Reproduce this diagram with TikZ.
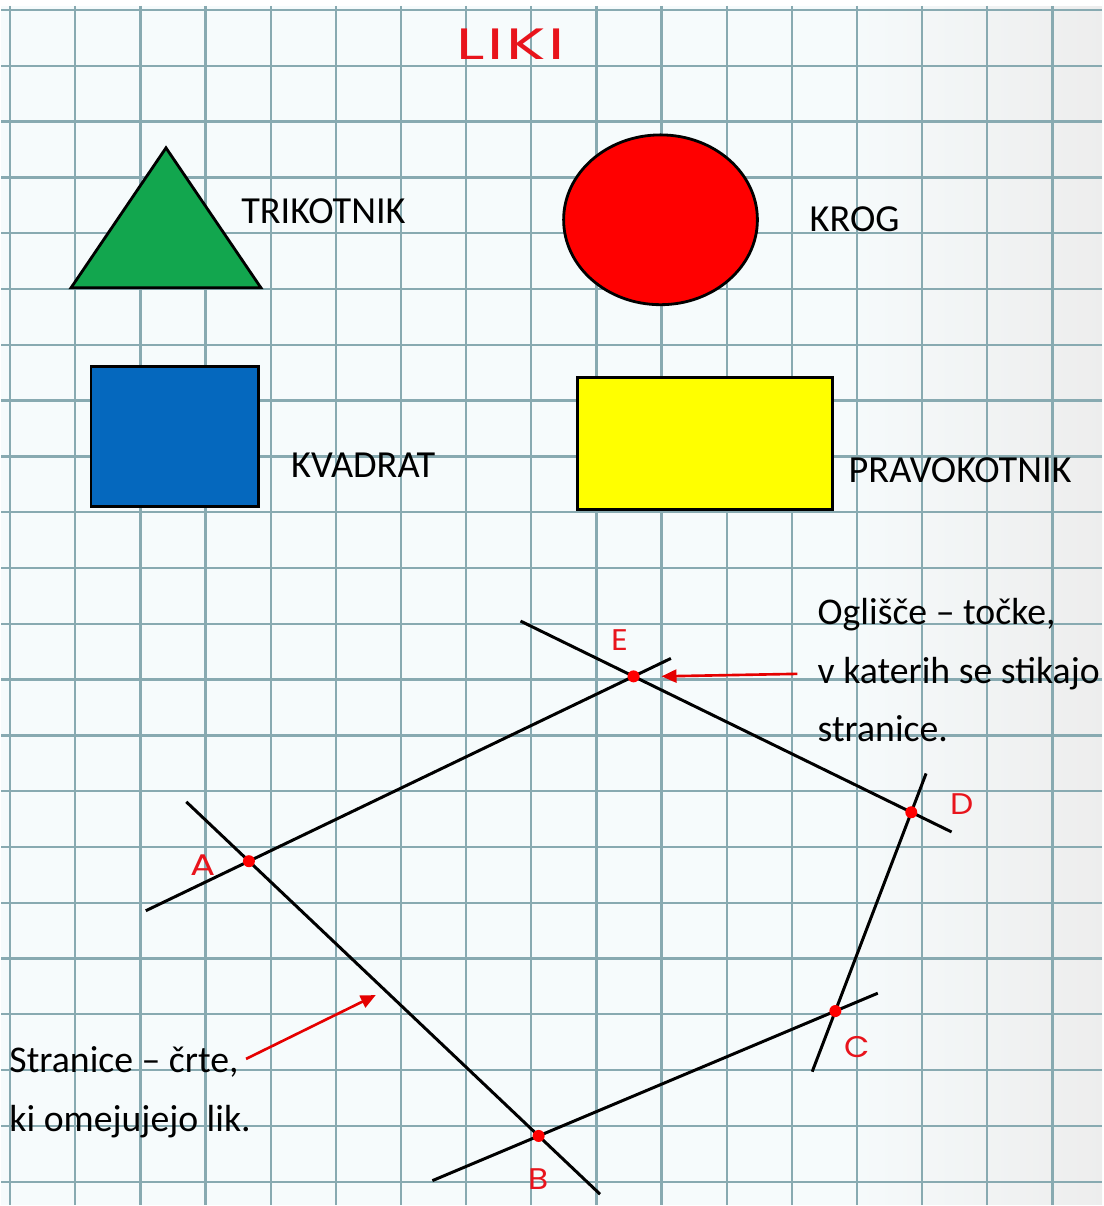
\documentclass[tikz,border=0pt]{standalone}
\usepackage{fontspec}
\setmainfont{Carlito}
\newfontfamily\titlefont[LetterSpace=4]{Poppins}
\newfontfamily\pointfont{Poppins}
\usepackage{tikz}
\usetikzlibrary{calc,arrows.meta,positioning}

\definecolor{gridline}{RGB}{136,170,177}
\definecolor{paper}{RGB}{246,251,252}
\definecolor{likired}{RGB}{232,20,28}
\definecolor{trigreen}{RGB}{18,166,78}
\definecolor{sqblue}{RGB}{5,104,190}
\definecolor{recyellow}{RGB}{255,255,0}
\definecolor{krogred}{RGB}{255,0,0}

\begin{document}
\begin{tikzpicture}[x=0.02cm, y=-0.02cm,
    lik/.style={draw=black, line width=1.6pt, line join=miter},
    liklabel/.style={font=\fontsize{21.8}{25}\selectfont, anchor=base west, inner sep=0pt},
    opis/.style={font=\fontsize{21.5}{25}\selectfont, anchor=base west, inner sep=0pt},
    stranica/.style={black, line width=1.7pt},
    vdot/.style={circle, fill=red, inner sep=0pt, minimum size=0.24cm},
    vlabel/.style={text=likired, font=\pointfont\fontsize{17}{19}\selectfont, inner sep=0pt},
    kazalec/.style={-{Triangle[length=0.3cm, width=0.26cm]}, red!90!black, line width=1.5pt}
]

% paper and grid
\fill[paper] (0,0) rectangle (1102,1206);
\shade[left color=paper, right color=black!7] (840,0) rectangle (1102,1206);
\fill[white] (0,0) rectangle (1102,6);
\foreach \i in {0,...,16}
  \draw[gridline, line width=1.3pt] ({9+65.2*\i},6) -- ({9+65.2*\i},1206);
\foreach \j in {0,...,21}
  \draw[gridline, line width=1.3pt] (0,{10+55.85*\j}) -- (1102,{10+55.85*\j});

% title
\node[text=likired, font=\titlefont\fontsize{25}{30}\selectfont, anchor=base, inner sep=0pt] (naslov) at (510,60) {\scalebox{1.5}[1]{LIKI}};

% shapes
\filldraw[lik, fill=trigreen] (165,148) -- (260,288) -- (70,288) -- cycle;
\node[liklabel] (trikotnik) at (240,224) {TRIKOTNIK};

\filldraw[lik, fill=krogred] (660,220) ellipse [x radius=1.94cm, y radius=1.7cm];
\node[liklabel] (krog) at (809,232) {KROG};

\filldraw[lik, fill=sqblue] (90,367) rectangle (258,507);
\node[liklabel] (kvadrat) at (290,478) {KVADRAT};

\filldraw[lik, fill=recyellow] (577,378) rectangle (832,510);
\node[liklabel] (pravokotnik) at (848,483) {PRAVOKOTNIK};

% polygon
\coordinate (A) at (248,862);
\coordinate (B) at (538,1137);
\coordinate (C) at (835,1012);
\coordinate (D) at (911,813);
\coordinate (E) at (633,677);

\draw[stranica] ($(A)!-0.268!(E)$) -- ($(E)!-0.097!(A)$);
\draw[stranica] ($(A)!-0.216!(B)$) -- ($(B)!-0.212!(A)$);
\draw[stranica] ($(B)!-0.358!(C)$) -- ($(C)!-0.143!(B)$);
\draw[stranica] ($(C)!-0.305!(D)$) -- ($(D)!-0.195!(C)$);
\draw[stranica] ($(D)!-0.145!(E)$) -- ($(E)!-0.407!(D)$);

\foreach \v in {A,B,C,D,E}
  \node[vdot] (dot\v) at (\v) {};

\node[vlabel] (lA) at (202,866) {\scalebox{1.25}[1]{A}};
\node[vlabel] (lB) at (538,1180) {\scalebox{1.1}[1]{B}};
\node[vlabel] (lC) at (857,1048) {\scalebox{1.1}[1]{C}};
\node[vlabel] (lD) at (962,805) {\scalebox{1.1}[1]{D}};
\node[vlabel] (lE) at (619,641) {\scalebox{1.1}[1]{E}};

% notes
\node[opis] (ogl1) at (817,625) {Oglišče – točke,};
\node[opis] (ogl2) at (817,684) {v katerih se stikajo};
\node[opis] (ogl3) at (817,742) {stranice.};
\coordinate (tipE) at (661,677);
\draw[kazalec, shorten <=0.4cm] (ogl2.west) -- (tipE);

\node[opis] (str1) at (8,1074) {Stranice – črte,};
\node[opis] (str2) at (8,1133) {ki omejujejo lik.};
\coordinate (tipAB) at (375,996);
\draw[kazalec, shorten <=0.16cm] (str1.east) -- (tipAB);

\end{tikzpicture}
\end{document}
